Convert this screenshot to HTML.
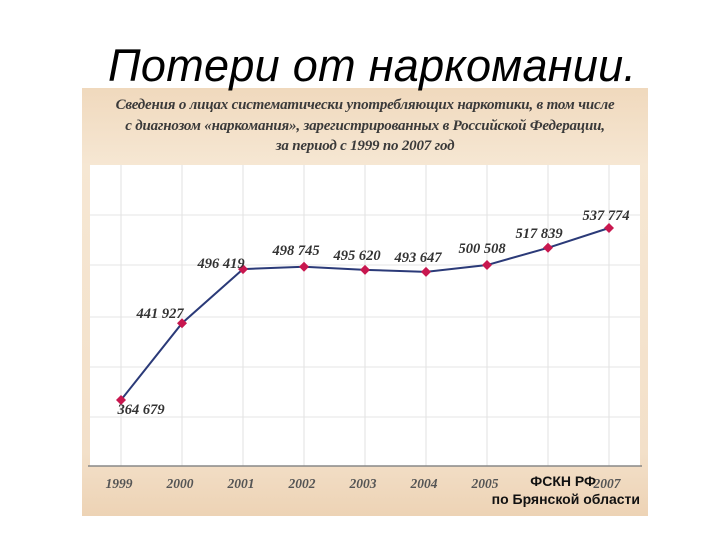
<!DOCTYPE html>
<html><head><meta charset="utf-8"><style>
body{margin:0;width:720px;height:540px;background:#fff;overflow:hidden;position:relative;font-family:"Liberation Sans","DejaVu Sans",sans-serif}
.title{position:absolute;left:108px;width:540px;top:40px;text-align:left;font-size:45px;font-style:italic;color:#000;letter-spacing:0.3px;white-space:nowrap;z-index:5}
.photo{position:absolute;left:82px;top:88px;width:566px;height:428px;background:linear-gradient(180deg,#f0d9bd 0%,#f6e7d3 18%,#f3e0c9 85%,#edd3b5 100%)}
.sub{position:absolute;left:82px;width:566px;top:95px;text-align:center;font-family:"Liberation Serif",serif;font-style:italic;font-weight:bold;font-size:15px;line-height:20.5px;color:#3a3a3a;letter-spacing:-0.2px}
svg{position:absolute;left:0;top:0}
.src{position:absolute;left:480px;top:472px;font-weight:bold;font-size:14px;line-height:18px;color:#111;text-align:right;width:160px}
</style></head><body>
<div class="photo"></div>
<div class="sub">Сведения о лицах систематически употребляющих наркотики, в том числе<br>с диагнозом «наркомания», зарегистрированных в Российской Федерации,<br>за период с 1999 по 2007 год</div>
<svg id="chart" width="720" height="540"></svg>
<div class="title">Потери от наркомании.</div>
<div class="src"><span style="margin-right:44px">ФСКН РФ</span><br>по Брянской области</div>
<script>
const years=["1999","2000","2001","2002","2003","2004","2005","2006","2007"];
const values=[364679,441927,496419,498745,495620,493647,500508,517839,537774];
const labels=["364 679","441 927","496 419","498 745","495 620","493 647","500 508","517 839","537 774"];
const NS="http://www.w3.org/2000/svg";
const svg=document.getElementById('chart');
const x=i=>121+i*61;
const y=v=>400-(v-364679)*0.0009937;
function mk(t,a,p){const e=document.createElementNS(NS,t);for(const k in a)e.setAttribute(k,a[k]);(p||svg).appendChild(e);return e;}
const plot=mk('rect',{x:90,y:165,width:550,height:301,fill:'#fff'});


[215,265,317,367,417].forEach(gy=>{const g=mk('line',{x1:90,x2:640,y1:gy,y2:gy,stroke:'#e6e6e6','stroke-width':1});

});
years.forEach((yr,i)=>{const g=mk('line',{x1:x(i),x2:x(i),y1:165,y2:466,stroke:'#e2e2e2','stroke-width':1});


if(yr!=="2006"){const t=mk('text',{x:x(i)-2,y:488,'text-anchor':'middle','font-family':'Liberation Serif,serif','font-style':'italic','font-weight':'bold','font-size':13.5,fill:'#555'});
t.textContent=yr;

}});
const ax=mk('line',{x1:88,x2:642,y1:466,y2:466,stroke:'#888','stroke-width':1.5});


const line=mk('polyline',{points:values.map((v,i)=>x(i)+','+y(v)).join(' '),fill:'none',stroke:'#2b3a78','stroke-width':2});


const off=[[20,14],[-22,-5],[-22,-1],[-8,-12],[-8,-10],[-8,-10],[-5,-12],[-9,-10],[-3,-8]];
values.forEach((v,i)=>{const cx=x(i),cy=y(v);
const d=mk('polygon',{points:`${cx},${cy-5} ${cx+5},${cy} ${cx},${cy+5} ${cx-5},${cy}`,fill:'#c8174f'});


const t=mk('text',{x:cx+off[i][0],y:cy+off[i][1],'text-anchor':'middle','font-family':'Liberation Serif,serif','font-style':'italic','font-weight':'bold','font-size':14.5,fill:'#333'});
t.textContent=labels[i];

});
</script>
</body></html>
